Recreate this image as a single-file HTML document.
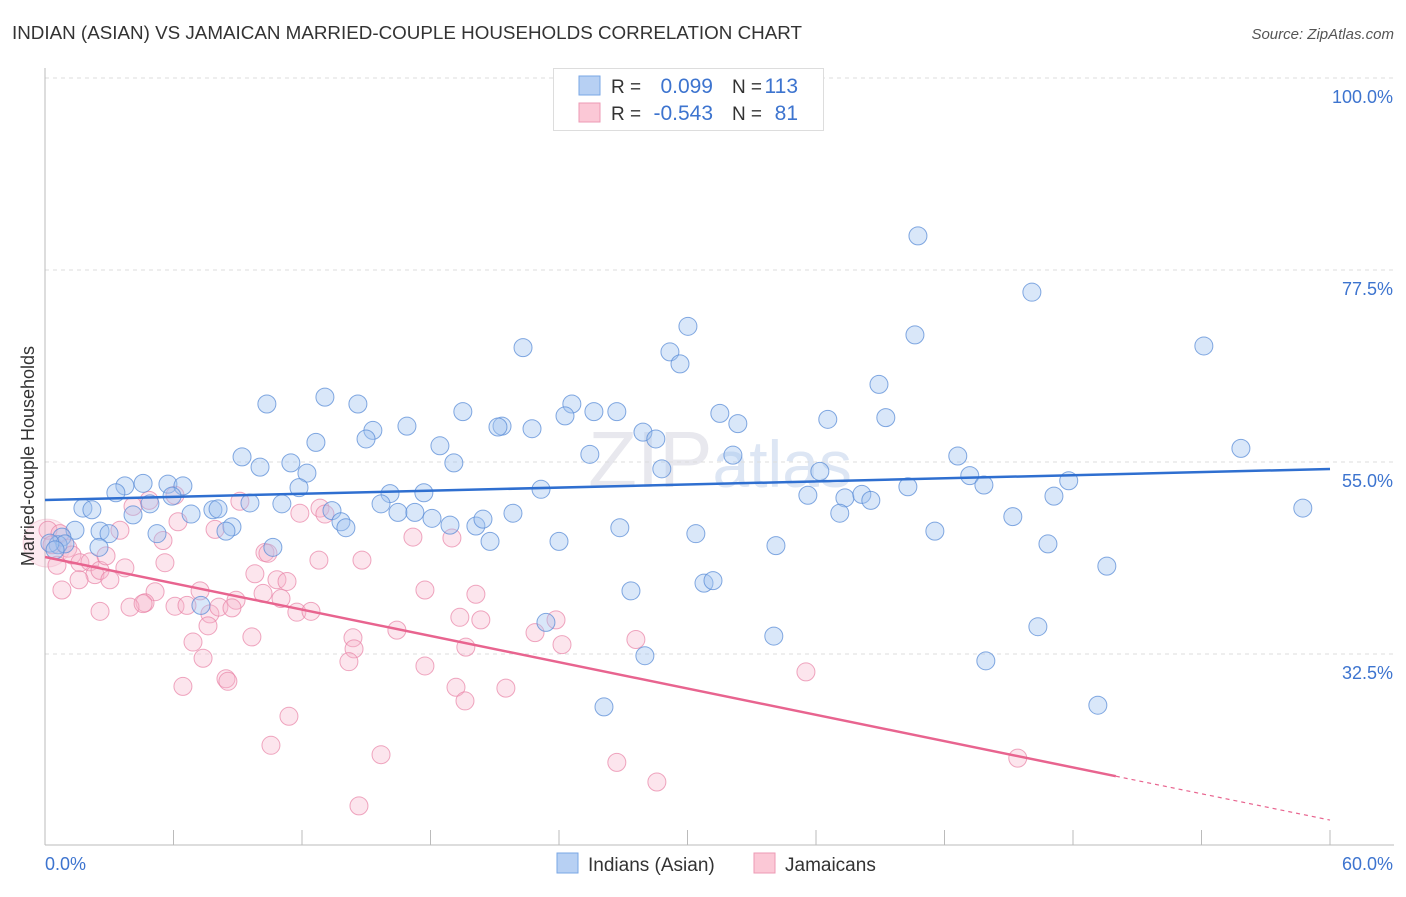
<!DOCTYPE html>
<html><head><meta charset="utf-8">
<style>
body{margin:0;background:#fff;font-family:"Liberation Sans",sans-serif;}
svg text{font-family:"Liberation Sans",sans-serif;}
</style></head>
<body>
<svg id="chart" width="1406" height="892" xmlns="http://www.w3.org/2000/svg">
<text x="12" y="39" font-size="18" fill="#333" textLength="790" lengthAdjust="spacingAndGlyphs">INDIAN (ASIAN) VS JAMAICAN MARRIED-COUPLE HOUSEHOLDS CORRELATION CHART</text>
<text x="1394" y="39" font-size="15" fill="#555" text-anchor="end" font-style="italic">Source: ZipAtlas.com</text>
<text x="720" y="487" font-size="80" fill="#e8e8ee" text-anchor="middle" font-family="Liberation Serif">ZIP<tspan fill="#dde6f4" font-family="Liberation Sans" font-size="66">atlas</tspan></text>
<g id="grid"></g>
<g id="axes"></g>
<g id="pink"></g>
<g id="blue"></g>
<g id="trends"></g>
<text transform="translate(34,456) rotate(-90)" font-size="18" fill="#333" text-anchor="middle">Married-couple Households</text>
<g>
<rect x="553.5" y="68.5" width="270" height="62" fill="#fff" stroke="#ddd"/>
<rect x="579" y="76" width="21" height="19" fill="#b7d0f3" stroke="#7aa7e6"/>
<rect x="579" y="103" width="21" height="19" fill="#fbc8d6" stroke="#ec9ab4"/>
<text x="611" y="93" font-size="19" fill="#333">R =</text>
<text x="713" y="93" font-size="21" fill="#3d74cf" text-anchor="end">0.099</text>
<text x="732" y="93" font-size="19" fill="#333" textLength="30">N =</text>
<text x="798" y="93" font-size="21" fill="#3d74cf" text-anchor="end">113</text>
<text x="611" y="120" font-size="19" fill="#333">R =</text>
<text x="713" y="120" font-size="21" fill="#3d74cf" text-anchor="end">-0.543</text>
<text x="732" y="120" font-size="19" fill="#333" textLength="30">N =</text>
<text x="798" y="120" font-size="21" fill="#3d74cf" text-anchor="end">81</text>
</g>
<g>
<rect x="557" y="853" width="21" height="20" fill="#b7d0f3" stroke="#7aa7e6"/>
<text x="588" y="871" font-size="19" fill="#333">Indians (Asian)</text>
<rect x="754" y="853" width="21" height="20" fill="#fbc8d6" stroke="#ec9ab4"/>
<text x="785" y="871" font-size="19" fill="#333">Jamaicans</text>
</g>
</svg>
<script>
const blueX=[40.76,46.08,30.02,40.62,54.11,22.32,29.18,29.65,38.94,10.36,13.07,14.61,24.6,19.51,25.63,26.7,31.51,36.55,39.26,32.35,12.65,15.31,14.99,16.9,18.44,21.34,21.15,22.74,24.28,27.92,28.52,55.84,9.2,10.04,11.48,12.23,19.09,25.44,32.12,28.8,36.18,42.62,43.18,43.84,47.8,3.73,4.58,5.74,6.44,3.31,5.93,4.9,4.11,1.77,2.19,6.82,7.84,8.08,9.57,11.06,11.86,13.4,16.11,15.69,17.69,16.48,17.27,18.07,18.91,20.12,20.45,21.85,23.16,35.62,37.35,38.14,38.56,37.11,40.29,47.11,58.73,45.19,1.4,2.57,0.79,0.61,0.93,0.23,0.47,2.99,5.23,8.73,8.45,13.82,14.05,20.78,24.0,26.84,30.39,41.55,34.13,46.83,49.58,2.52,10.64,30.77,31.19,27.36,7.28,23.39,34.03,46.36,28.01,43.93,26.1,49.16];
const blueY=[81.5,74.9,70.9,69.9,68.6,68.4,67.9,66.5,64.1,61.8,62.6,61.8,61.8,60.9,60.9,60.9,60.7,60.0,60.2,59.5,57.3,58.7,57.7,59.2,56.9,59.2,59.1,58.9,60.4,58.5,57.7,56.6,55.6,54.4,54.9,53.7,54.9,55.9,55.8,54.2,53.9,55.7,53.4,52.3,52.8,52.2,52.5,52.4,52.2,51.4,51.0,50.1,48.8,49.6,49.4,48.9,49.4,49.5,50.2,50.1,52.0,49.3,51.3,50.1,51.4,49.1,49.1,48.4,47.6,47.5,48.3,49.0,51.8,51.1,50.8,51.2,50.5,49.0,52.1,51.0,49.6,48.6,47.0,46.9,46.2,45.3,45.4,45.5,44.7,46.6,46.6,47.4,46.9,48.0,47.3,45.7,45.7,47.3,46.6,46.9,45.2,45.4,42.8,45.0,45.0,40.8,41.1,39.9,38.2,36.2,34.6,35.7,32.3,31.7,26.3,26.5];
const pinkX=[0.14,0.7,0.33,1.07,1.26,0.56,1.63,2.1,0.79,2.33,2.57,1.59,3.03,3.73,2.85,3.5,4.11,4.86,5.51,6.07,6.21,5.6,5.14,4.67,3.97,2.57,4.58,6.07,6.63,7.7,7.24,7.61,6.91,7.38,6.44,8.45,8.54,8.12,7.94,9.1,8.92,8.73,9.66,9.8,10.27,10.41,10.55,11.39,10.18,10.83,11.3,11.02,11.76,12.42,11.9,12.84,13.07,12.79,14.38,14.43,14.19,14.8,15.69,14.66,16.43,17.18,17.74,17.74,19.0,19.37,19.65,20.12,20.35,19.19,19.61,21.52,22.88,23.86,24.14,26.7,27.59,28.57,35.53,45.42];
const pinkY=[47.0,46.6,45.3,44.9,44.1,42.9,43.2,43.3,40.0,41.8,42.3,41.2,41.2,42.6,44.0,47.0,49.8,50.5,45.8,51.1,48.0,43.2,39.8,38.5,38.0,37.5,38.4,38.1,38.2,37.2,39.9,35.8,33.9,32.0,28.7,29.6,29.3,38.0,47.1,50.4,38.8,37.9,34.5,41.9,44.4,44.3,21.8,25.2,39.6,41.2,41.0,39.0,37.4,37.5,49.0,49.6,48.9,43.5,34.4,33.1,31.6,43.5,20.7,14.7,35.3,46.2,31.1,40.0,46.1,36.8,33.3,39.5,36.5,28.6,27.0,28.5,35.0,36.5,33.6,19.8,34.2,17.5,30.4,20.3];
const trendBlue=[50.55,54.18];
const trendPink=[43.87,13.04];
const pinkSolidEnd=50;
const xTicks=[0,6,12,18,24,30,36,42,48,54,60];
const yTicks=[100,77.5,55,32.5];
const yTickLabels=["100.0%","77.5%","55.0%","32.5%"];

const NS="http://www.w3.org/2000/svg";
const sx=v=>45+v/60*1285;
const sy=v=>78+(100-v)/22.5*192;
function mk(tag,attrs,parent){const e=document.createElementNS(NS,tag);for(const k in attrs)e.setAttribute(k,attrs[k]);parent.appendChild(e);return e;}
const grid=document.getElementById('grid'),axes=document.getElementById('axes');
yTicks.forEach((t,i)=>{
  const l=mk('line',{x1:45,x2:1394,y1:sy(t),y2:sy(t),stroke:'#ddd','stroke-dasharray':'4,4'},grid);
  
  
  const tx=mk('text',{x:1393,y:sy(t)+25,'font-size':18,fill:'#3d74cf','text-anchor':'end'},axes);
  tx.textContent=yTickLabels[i];
  
  
});
const ya=mk('line',{x1:45,x2:45,y1:68,y2:845,stroke:'#bbb'},axes);


const xa=mk('line',{x1:45,x2:1394,y1:845,y2:845,stroke:'#bbb'},axes);


xTicks.forEach(t=>{
  const l=mk('line',{x1:sx(t),x2:sx(t),y1:830,y2:845,stroke:'#bbb'},axes);
  
  
});
[[0,'0.0%','start',45],[60,'60.0%','end',1393]].forEach(a=>{
  const tx=mk('text',{x:a[3],y:870,'font-size':18,fill:'#3d74cf','text-anchor':a[2]},axes);
  tx.textContent=a[1];
  
  
});
const pg=document.getElementById('pink'),bg=document.getElementById('blue');
const big=mk('circle',{cx:sx(0.1),cy:sy(45.5),r:24,fill:'rgba(244,170,195,0.25)',stroke:'rgba(232,140,170,0.3)'},pg);


pinkX.forEach((x,i)=>{
  const c=mk('circle',{cx:sx(x),cy:sy(pinkY[i]),r:9,fill:'rgba(246,180,202,0.35)',stroke:'rgba(232,130,165,0.7)','stroke-width':1},pg);
  
  
});
blueX.forEach((x,i)=>{
  const c=mk('circle',{cx:sx(x),cy:sy(blueY[i]),r:9,fill:'rgba(160,195,240,0.4)',stroke:'rgba(90,140,215,0.75)','stroke-width':1},bg);
  
  
});
const tg=document.getElementById('trends');
const tb=mk('line',{x1:sx(0),y1:sy(trendBlue[0]),x2:sx(60),y2:sy(trendBlue[1]),stroke:'#2f6fd0','stroke-width':2.5},tg);


const pAt=x=>trendPink[0]+(trendPink[1]-trendPink[0])*x/60;
const tp=mk('line',{x1:sx(0),y1:sy(pAt(0)),x2:sx(pinkSolidEnd),y2:sy(pAt(pinkSolidEnd)),stroke:'#e8648f','stroke-width':2.5},tg);


const td=mk('line',{x1:sx(pinkSolidEnd),y1:sy(pAt(pinkSolidEnd)),x2:sx(60),y2:sy(pAt(60)),stroke:'#e8648f','stroke-width':1.2,'stroke-dasharray':'4,4'},tg);


</script>
</body></html>
